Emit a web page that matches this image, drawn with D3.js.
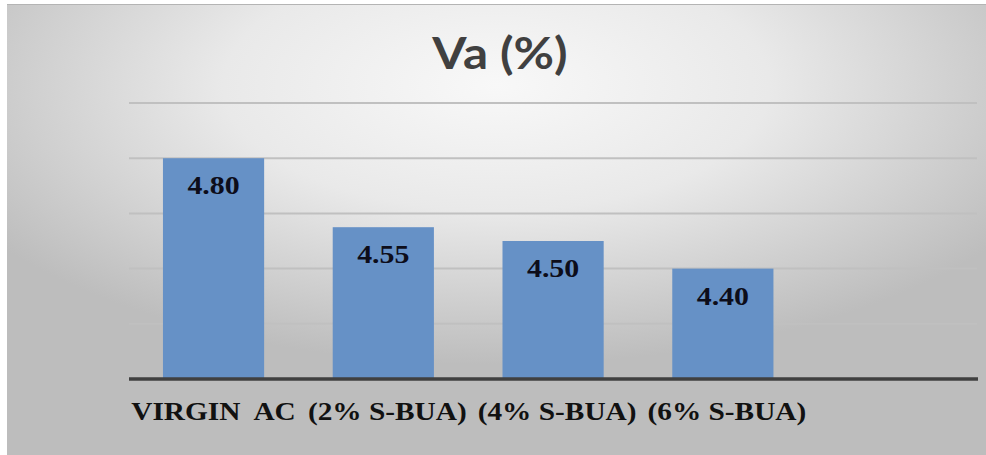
<!DOCTYPE html>
<html>
<head>
<meta charset="utf-8">
<script src="https://cdn.jsdelivr.net/npm/d3@7"></script>
<style>
  html, body { margin: 0; padding: 0; background: #ffffff; }
  svg { display: block; }
</style>
</head>
<body>
<svg id="chart" width="986" height="455"></svg>
<script>
// Chart data
const title = "Va (%)";
const categories = ["VIRGIN\u00a0 AC", "(2% S-BUA)", "(4% S-BUA)", "(6% S-BUA)"];
const values = [4.80, 4.55, 4.50, 4.40];
const yTicks = [4.0, 4.2, 4.4, 4.6, 4.8, 5.0];

const W = 986, H = 455;
const plot = { left: 129, right: 977, top: 103, bottom: 379 };
const stretch = 1.15; // horizontal text stretch

const svg = d3.select("#chart");

// Background panel with soft radial shading
const defs = svg.append("defs");
const grad = defs.append("radialGradient")
  .attr("id", "bg").attr("cx", "50%").attr("cy", "18%").attr("r", "62%")
  .attr("fx", "50%").attr("fy", "18%");
grad.append("stop").attr("offset", "0%").attr("stop-color", "#f8f8f8");
grad.append("stop").attr("offset", "45%").attr("stop-color", "#e9e9e9");
grad.append("stop").attr("offset", "100%").attr("stop-color", "#bdbdbd");

svg.append("rect").attr("x", 7).attr("y", 4).attr("width", W - 7).attr("height", H - 4)
  .attr("fill", "url(#bg)");
svg.append("line").attr("x1", 7).attr("x2", W).attr("y1", 4.5).attr("y2", 4.5)
  .attr("stroke", "#b4b4b4").attr("stroke-width", 1);

// Scales
const y = d3.scaleLinear().domain([4.0, 5.0]).range([plot.bottom, plot.top]);
const step = 169.77;
const x = d3.scaleBand().domain(categories)
  .range([plot.left, plot.left + step * (categories.length - 0.404 + 0.4)])
  .paddingInner(0.404).paddingOuter(0.2);

// Horizontal gridlines
svg.append("g")
  .selectAll("line").data(yTicks.filter(t => t > 4.0)).join("line")
  .attr("x1", plot.left).attr("x2", plot.right)
  .attr("y1", d => y(d)).attr("y2", d => y(d))
  .attr("stroke", "#c0c0c0").attr("stroke-width", 2);

// Bars
svg.append("g")
  .selectAll("rect").data(values).join("rect")
  .attr("x", (d, i) => x(categories[i]))
  .attr("width", x.bandwidth())
  .attr("y", d => y(d))
  .attr("height", d => y(4.0) - y(d))
  .attr("fill", "#6691c6");

// Value labels inside bars
svg.append("g")
  .selectAll("text").data(values).join("text")
  .attr("transform", (d, i) =>
    `translate(${x(categories[i]) + x.bandwidth() / 2},${y(d) + 36}) scale(${stretch},1)`)
  .attr("text-anchor", "middle")
  .attr("font-family", "'Liberation Serif', 'Times New Roman', serif")
  .attr("font-weight", "bold")
  .attr("font-size", 26)
  .attr("fill", "#0d0d1a")
  .text(d => d.toFixed(2));

// Category axis
const xAxis = svg.append("g").attr("transform", `translate(0,${plot.bottom})`);
xAxis.append("line")
  .attr("x1", plot.left).attr("x2", plot.right + 1)
  .attr("y1", 0).attr("y2", 0)
  .attr("stroke", "#404040").attr("stroke-width", 3.5);
xAxis.selectAll("text").data(categories).join("text")
  .attr("transform", (d, i) =>
    `translate(${x(d) + x.bandwidth() / 2 + (i ? 4 : 0)},41) scale(${stretch},1)`)
  .attr("text-anchor", "middle")
  .attr("font-family", "'Liberation Serif', 'Times New Roman', serif")
  .attr("font-weight", "bold")
  .attr("font-size", 25.5)
  .attr("fill", "#111111")
  .text(d => d);

// Title
svg.append("text")
  .attr("transform", `translate(500,69) scale(${stretch},1)`)
  .attr("text-anchor", "middle")
  .attr("font-family", "Lato, 'Open Sans', sans-serif")
  .attr("font-weight", "bold")
  .attr("font-size", 43)
  .attr("fill", "#404040")
  .text(title);
</script>
</body>
</html>
